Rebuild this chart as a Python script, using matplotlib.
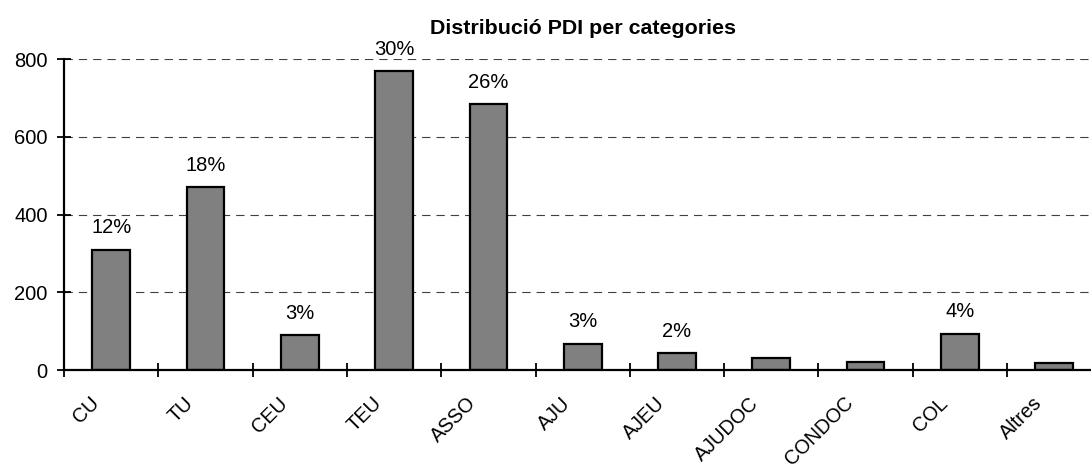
import numpy as np
import matplotlib
matplotlib.use("Agg")
import matplotlib.pyplot as plt
from matplotlib.transforms import ScaledTranslation

plt.rcParams['font.family'] = ['Liberation Sans', 'DejaVu Sans']
plt.rcParams['lines.scale_dashes'] = False

# Data
categories = ['CU', 'TU', 'CEU', 'TEU', 'ASSO', 'AJU', 'AJEU', 'AJUDOC', 'CONDOC', 'COL', 'Altres']
counts = [310, 470, 89, 769, 684, 67, 43, 32, 21, 93, 19]
pct_labels = ['12%', '18%', '3%', '30%', '26%', '3%', '2%', '', '', '4%', '']
y_ticks = [0, 200, 400, 600, 800]

fig = plt.figure(figsize=(10.91, 4.68), dpi=100)
# axes runs a little past the right edge, like the original crop
ax = fig.add_axes([0.0587, 0.2094, 0.9508, 0.6641])

x = np.arange(len(categories)) + 0.5
ax.bar(x, counts, width=0.4, color='#808080', edgecolor='black', linewidth=1.6, zorder=2)

# percent labels above bars
for xi, c, lab in zip(x, counts, pct_labels):
    if lab:
        ax.annotate(lab, (xi, c), xytext=(0, 9), textcoords='offset points',
                    ha='center', va='bottom', fontsize=14.5)

ax.set_xlim(0, len(categories))
ax.set_ylim(0, 800)
ax.set_yticks(y_ticks)
ax.set_xticks(np.arange(len(categories)))
ax.set_xticks(x, minor=True)
ax.set_xticklabels([])
ax.set_xticklabels(categories, minor=True, rotation=45, ha='right', va='top', fontsize=14.3)
ax.tick_params(axis='x', which='minor', length=0, pad=17)
ax.tick_params(axis='x', which='major', direction='inout', length=10, width=1.3)
ax.tick_params(axis='y', direction='inout', length=10, width=1.3, pad=6.7, labelsize=14.5)

# shift category labels to the left a bit
for lab in ax.get_xticklabels(minor=True):
    lab.set_transform(lab.get_transform() + ScaledTranslation(-8.5 / 100, 0, fig.dpi_scale_trans))

ax.yaxis.grid(True, color='#404040', linewidth=0.8, linestyle=(0, (6, 4.3)))
ax.set_axisbelow(True)

for side in ['top', 'right']:
    ax.spines[side].set_visible(False)
for side in ['left', 'bottom']:
    ax.spines[side].set_linewidth(1.6)

ax.set_title('Distribució PDI per categories', fontsize=15.4, fontweight='bold', pad=18)

fig.savefig('out.png', dpi=100)
